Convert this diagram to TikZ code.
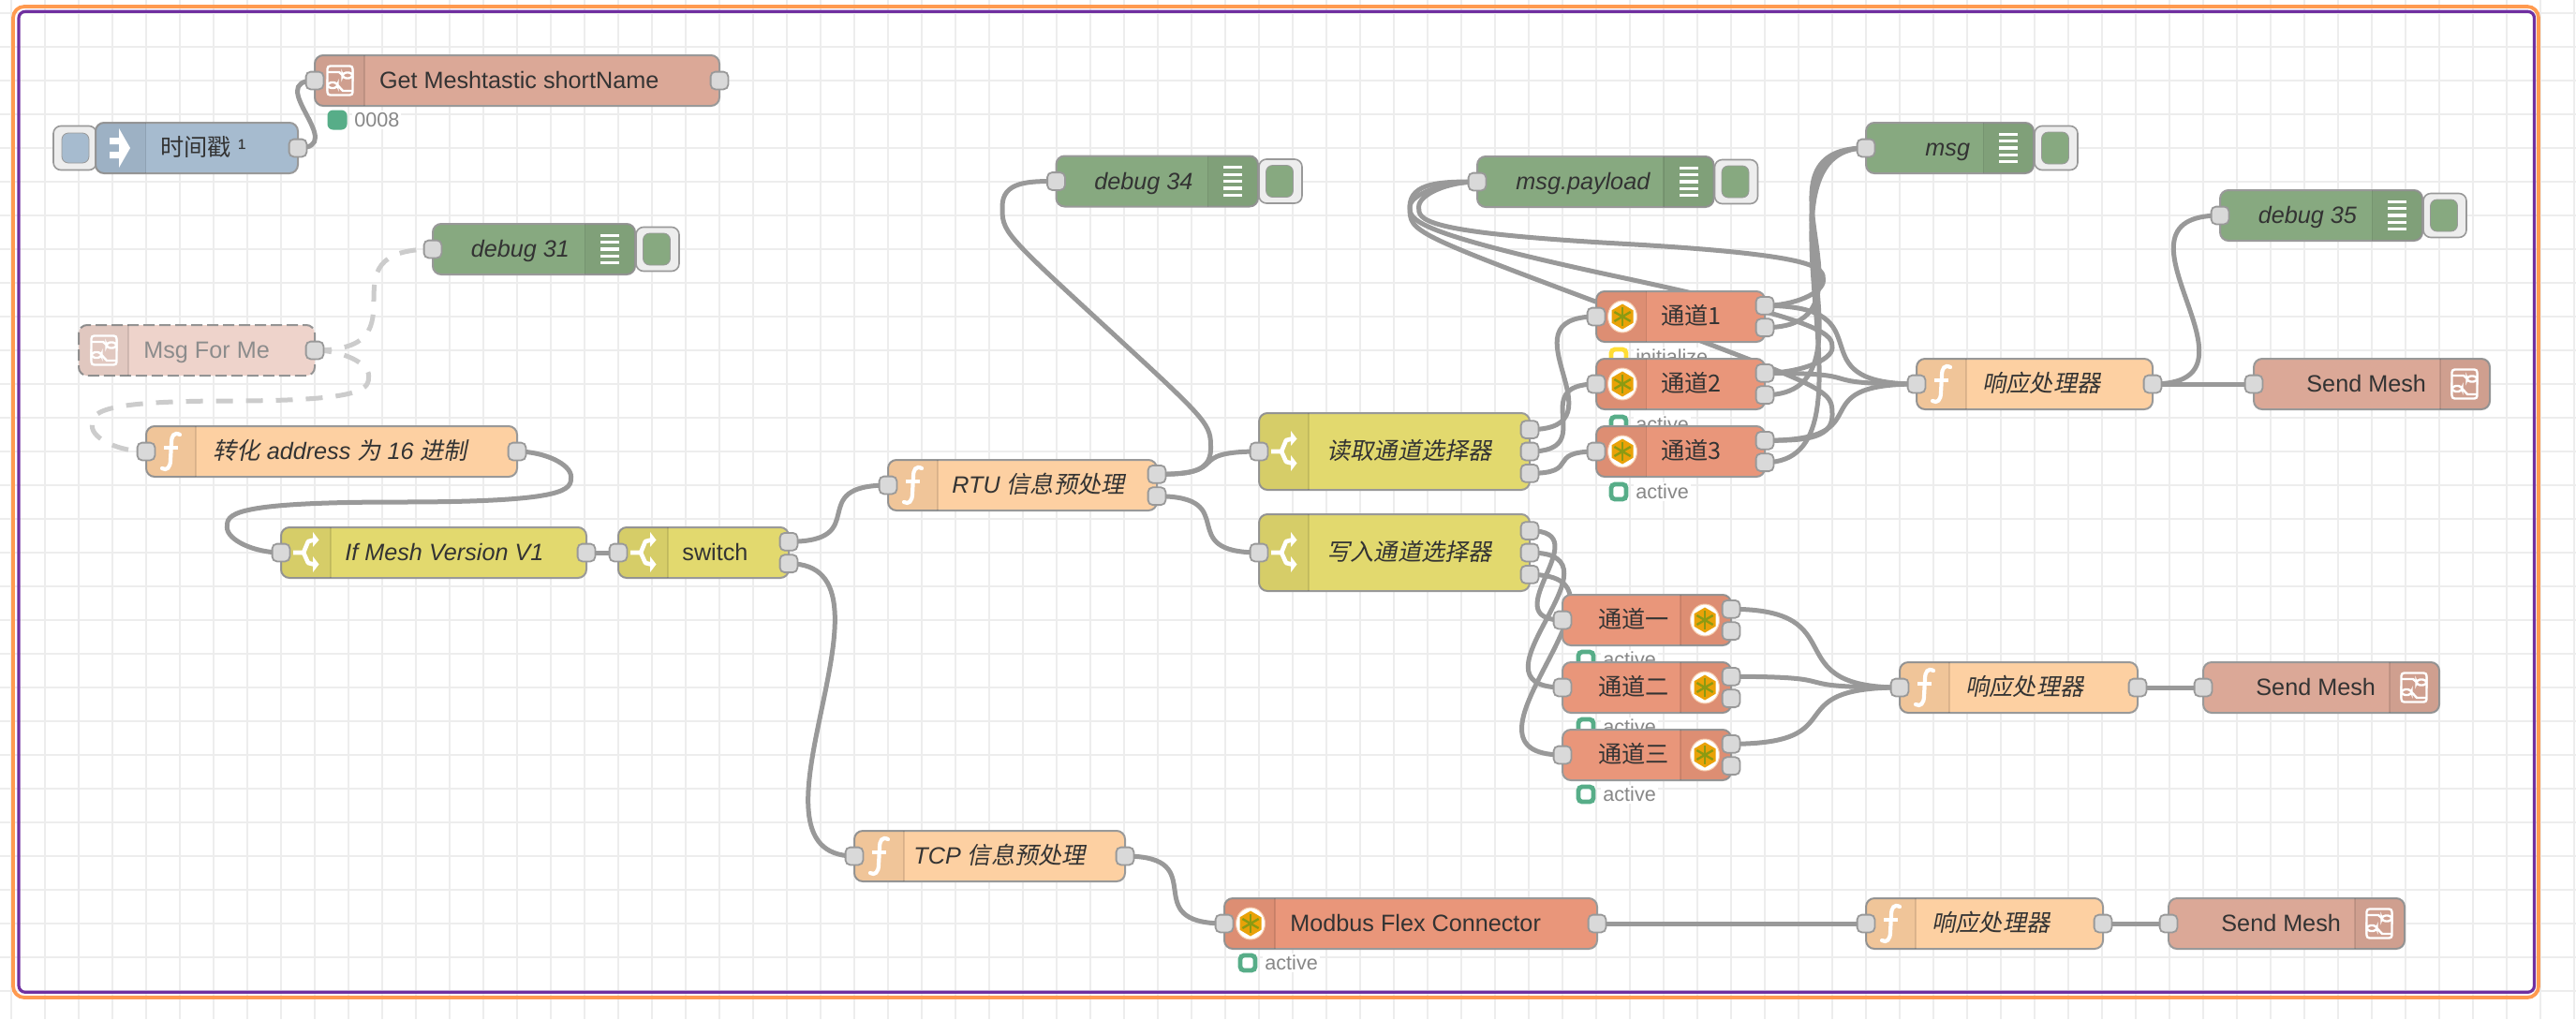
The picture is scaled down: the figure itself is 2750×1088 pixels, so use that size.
\documentclass[tikz,border=0pt]{standalone}
\usepackage{fontspec}
\setmainfont{Liberation Sans}
\newfontfamily\cjk{Noto Sans CJK SC}
\newfontfamily\cjkit[FakeSlant=0.2]{Noto Sans CJK SC}
\definecolor{wirec}{HTML}{999999}
\definecolor{cinj}{HTML}{A6BBCF}
\definecolor{cdbg}{HTML}{87A980}
\definecolor{cfn}{HTML}{FDD0A2}
\definecolor{csw}{HTML}{E2D96E}
\definecolor{cmb}{HTML}{E9967A}
\definecolor{csub}{HTML}{DBA897}
\definecolor{cfade}{HTML}{EED3CB}
\definecolor{cgreen}{HTML}{57AD88}
\definecolor{cyel}{HTML}{FFDD33}
\definecolor{mborange}{HTML}{E9A208}
\definecolor{mbgreen}{HTML}{8C9A12}
\definecolor{mbhalo}{HTML}{F6C9A8}
\pgfdeclarelayer{gridl}\pgfdeclarelayer{wirel}\pgfsetlayers{gridl,wirel,main}
\tikzset{
 nbox/.style={rectangle,draw=wirec,line width=1pt,rounded corners=4.5pt,inner sep=0pt},
 portbox/.style={rectangle,draw=wirec,fill=black!15,line width=.9pt,rounded corners=2.5pt,minimum width=9.4pt,minimum height=9.4pt,inner sep=0pt},
 wire/.style={draw=wirec,line width=2.5pt},
 fadewire/.style={draw=black!20,line width=2.5pt,dash pattern=on 9pt off 7pt},
 lbl/.style={anchor=base west,inner sep=0pt,text=black!80,font=\fontsize{12.6}{15}\selectfont},
 statl/.style={anchor=west,inner sep=1pt,fill=white,text=black!47,font=\fontsize{10.8}{13}\selectfont},
 whiteline/.style={draw=white,line width=1.2pt},
}
% body: name,x0,ytop,x1,h,color
\newcommand\nbody[6]{\node[nbox,fill=#6,minimum width={((#4)-(#2))*.5pt},minimum height={(#5)*.5pt}] (#1) at ({((#2)+(#4))/2},{(#3)+(#5)/2}) {};}
\newcommand\shadeL[4]{\fill[black,opacity=.05] ({#3},{#2}) [rounded corners=4pt] -- ({#1},{#2}) -- ({#1},{(#2)+(#4)}) [sharp corners] -- ({#3},{(#2)+(#4)}) -- cycle;
 \draw[black,opacity=.1,line width=.6pt] ({#3},{#2})--({#3},{(#2)+(#4)});}
\newcommand\shadeR[4]{\shadeL{#1}{#2}{#3}{#4}}
\newcommand\pnode[3]{\node[portbox] (#1) at ({#2},{#3}) {};}
\newcommand\lab[4]{\node[lbl] (#1) at ({#2},{(#3)+8.5}) {#4};}
% icons
\newcommand\iconF[2]{\begin{scope}[shift={({#1},{#2})}]
 \draw[draw=white,line width=2.1pt,line cap=round] (10,-18) .. controls (4,-21) and (1,-17) .. (1,-9) -- (0,9) .. controls (0,17) and (-4,21) .. (-9,18);
 \draw[draw=white,line width=1.6pt] (-7,-4)--(8,-4);
 \end{scope}}
\newcommand\iconSw[2]{\begin{scope}[shift={({#1},{#2})}]
 \draw[draw=white,line width=2.3pt,line join=round] (-13,0)--(-2,0)--(3,-12)--(9,-13.5);
 \draw[draw=white,line width=2.3pt,line join=round] (-2,0)--(3,11)--(9,12.5);
 \fill[white] (8,-22)--(14.5,-13.5)--(8,-6)--cycle (8,4)--(14.5,12.5)--(8,21)--cycle;
 \end{scope}}
\newcommand\iconDbg[2]{\begin{scope}[shift={({#1},{#2})}]
 \foreach \q in {-14.8,-7.4,0,7.4,14.8}{\fill[white] (-10,{\q-1.6}) rectangle (10,{\q+1.6});}
 \end{scope}}
\newcommand\iconSub[2]{\begin{scope}[shift={({#1},{#2})}]
 \draw[whiteline,rounded corners=1.5pt] (-13.5,-15.5) rectangle (13.5,15.5);
 \draw[whiteline,rounded corners=2pt] (2.5,-8.5) rectangle (13.5,-2.5);
 \draw[whiteline,rounded corners=2pt] (-13.5,2) rectangle (-2.5,8);
 \draw[whiteline] (-13.5,-9)--(-1,-9)--(2.5,-6);
 \draw[whiteline] (-2.5,5)--(3,11)--(13.5,11);
 \end{scope}}
\newcommand\iconMb[2]{\begin{scope}[shift={({#1},{#2})}]
 \fill[white,draw=mbhalo,line width=.5pt] (0,0) ellipse [x radius=15.5,y radius=17];
 \fill[mborange] (0,-13.5)--(11.5,-6.7)--(11.5,6.7)--(0,13.5)--(-11.5,6.7)--(-11.5,-6.7)--cycle;
 \foreach \a in {0,60,120}{\draw[draw=mbgreen,line width=1.2pt] (\a+90:-10)--(\a+90:10);}
 \end{scope}}
\newcommand\iconInj[2]{\begin{scope}[shift={({#1},{#2})}]
 \fill[white] (-10,-11) rectangle (1,-4) (-10,4) rectangle (1,11);
 \fill[white] (0,-21)--(12,0)--(0,21)--cycle;
 \end{scope}}
% function: name,x0,ytop,x1,lx,text
\newcommand\fnode[6]{\nbody{#1}{#2}{#3}{#4}{54}{cfn}\shadeL{#2}{#3}{#2+53}{54}
 \iconF{#2+26}{#3+27}\lab{#1-t}{#5}{#3+27}{\itshape #6}
 \pnode{#1-i}{#2}{#3+27}}
% debug: name,x0,ytop,x1,lx,text
\newcommand\dnode[6]{\node[nbox,fill=black!7,draw=wirec,line width=.8pt,rounded corners=4pt,minimum width=23pt,minimum height=23.5pt] (#1-b) at ({(#4)+24},{(#3)+27}) {};
 \nbody{#1}{#2}{#3}{#4}{54}{cdbg}\shadeR{#4}{#3}{#4-53.5}{54}
 \node[rectangle,fill=cdbg,draw=black!40,line width=.4pt,rounded corners=3.5pt,minimum width=14.5pt,minimum height=17pt,inner sep=0pt] (#1-c) at ({(#4)+23},{(#3)+27}) {};
 \iconDbg{#4-27}{#3+27}\lab{#1-t}{#5}{#3+27}{\itshape #6}
 \pnode{#1-i}{#2}{#3+27}}
% send mesh: name,x0,ytop
\newcommand\snode[3]{\nbody{#1}{#2}{#3}{#2+252}{54}{csub}\shadeR{#2+252}{#3}{#2+199}{54}
 \iconSub{#2+225}{#3+27}\lab{#1-t}{#2+56}{#3+27}{Send Mesh}
 \pnode{#1-i}{#2}{#3+27}}
% switch: name,x0,ytop,x1,h,lx,text
\newcommand\swnode[7]{\nbody{#1}{#2}{#3}{#4}{#5}{csw}\shadeL{#2}{#3}{#2+53}{#5}
 \iconSw{#2+26}{#3+#5/2}\lab{#1-t}{#6}{#3+#5/2}{#7}
 \pnode{#1-i}{#2}{#3+#5/2}}
% status: name,cx,cy,colour,filled(ring=white),text
\newcommand\stat[6]{\node[statl] (#1-t) at ({(#2)+16},{#3}) {#6};
 \node[rectangle,draw=#4,fill=#5,line width=2.4pt,rounded corners=2pt,minimum width=8pt,minimum height=8pt,inner sep=0pt] (#1-d) at ({#2},{#3}) {};}
% read channel (icon left): name,ytop,text,status colour,status text
\newcommand\chL[5]{\nbody{#1}{1704}{#2}{1884}{54}{cmb}\shadeL{1704}{#2}{1757.5}{54}
 \iconMb{1732}{#2+27}\lab{#1-t}{1773}{#2+27}{\cjk #3}
 \pnode{#1-i}{1704}{#2+27}\pnode{#1-a}{1884}{#2+15.3}\pnode{#1-b}{1884}{#2+38.7}
 \stat{#1-s}{1728}{#2+70}{#4}{white}{#5}}
% write channel (icon right): name,ytop,text
\newcommand\chR[3]{\nbody{#1}{1668}{#2}{1848}{54}{cmb}\shadeR{1848}{#2}{1794}{54}
 \iconMb{1820}{#2+27}\lab{#1-t}{1705.6}{#2+27}{\cjk #3}
 \pnode{#1-i}{1668}{#2+27}\pnode{#1-a}{1848}{#2+15.3}\pnode{#1-b}{1848}{#2+38.7}
 \stat{#1-s}{1693}{#2+69}{cgreen}{white}{active}}
% Node-RED link routing
\newcommand\wire[3][]{%
 \pgfpointanchor{#2}{center}\pgfgetlastxy\wax\way
 \pgfpointanchor{#3}{center}\pgfgetlastxy\wbx\wby
 \pgfmathsetmacro\wox{\wax*2}\pgfmathsetmacro\woy{-1*\way*2}%
 \pgfmathsetmacro\wqx{\wbx*2}\pgfmathsetmacro\wqy{-1*\wby*2}%
 \pgfmathsetmacro\wdx{\wqx-\wox}\pgfmathsetmacro\wdy{\wqy-\woy}%
 \ifdim\wdx pt>0pt
  \pgfmathsetmacro\wdl{veclen(\wdx,\wdy)}%
  \pgfmathsetmacro\wcs{0.75*min(\wdl,180)}%
  \draw[wire,#1] (#2.center) .. controls ({\wox+\wcs},\woy) and ({\wqx-\wcs},\wqy) .. (#3.center);
 \else
  \pgfmathsetmacro\wsc{0.4-0.2*max(0,(180-min(abs(\wdx),abs(\wdy)))/180)}%
  \pgfmathsetmacro\wtx{\wox+180*\wsc}\pgfmathsetmacro\wbotx{\wqx-180*\wsc}%
  \pgfmathsetmacro\wmx{\wqx-\wdx/2}\pgfmathsetmacro\wmy{\wqy-\wdy/2}%
  \pgfmathsetmacro\wyo{(\wqy+\wmy)/2}%
  \ifdim\wdy pt>0pt
   \def\wscy{1}%
   \pgfmathsetmacro\wty{min(\wyo-\wdy/2,\woy+27)}\pgfmathsetmacro\wboty{max(\wyo,\wqy-27)}%
   \pgfmathsetmacro\wca{max(\woy,\wty-27)}\pgfmathsetmacro\wcb{min(\wmy,\wty+27)}\pgfmathsetmacro\wcc{max(\wmy,\wboty-27)}%
  \else
   \def\wscy{-1}%
   \pgfmathsetmacro\wty{max(\wyo-\wdy/2,\woy-27)}\pgfmathsetmacro\wboty{min(\wyo,\wqy+27)}%
   \pgfmathsetmacro\wca{min(\woy,\wty+27)}\pgfmathsetmacro\wcb{max(\wmy,\wty-27)}\pgfmathsetmacro\wcc{min(\wmy,\wboty+27)}%
  \fi
  \pgfmathsetmacro\wtst{abs(\wcb-(\wty+\wscy*27))}%
  \pgfmathsetmacro\wady{abs(\wdy)}%
  \ifdim\wtst pt<.01pt\ifdim\wady pt<270pt
   \pgfmathsetmacro\wca{\wty-\wscy*13.5}\pgfmathsetmacro\wcc{\wboty-\wscy*13.5}%
  \fi\fi
  \draw[wire,#1] (#2.center) .. controls ({(\wox+\wtx)/2},\woy) and (\wtx,\wca) .. (\wtx,\wty)
   .. controls (\wtx,{2*\wty-\wca}) and (\wtx,\wcb) .. (\wmx,\wmy)
   .. controls ({2*\wmx-\wtx},{2*\wmy-\wcb}) and (\wbotx,\wcc) .. (\wbotx,\wboty)
   .. controls (\wbotx,{2*\wboty-\wcc}) and ({(\wqx+\wbotx)/2},\wqy) .. (#3.center);
 \fi}
\begin{document}
\begin{tikzpicture}[x=.5pt,y=-.5pt]
\useasboundingbox (0,0) rectangle (2750,1088);
\begin{pgfonlayer}{gridl}
 \fill[white] (0,0) rectangle (2750,1088);
 \foreach \k in {0,...,76}{\draw[black!7,line width=1pt] ({12+36*\k},0)--({12+36*\k},1088);}
 \foreach \k in {0,...,29}{\draw[black!7,line width=1pt] (0,{14+36*\k})--(2750,{14+36*\k});}
 \draw[draw={rgb,255:red,255;green,154;blue,80},line width=1.9pt,rounded corners=6pt] (14,7) rectangle (2710,1065);
 \draw[draw={rgb,255:red,112;green,48;blue,160},line width=1.6pt,rounded corners=3.5pt] (20,12.3) rectangle (2705.5,1059.3);
\end{pgfonlayer}

% inject
\node[nbox,fill=black!7,line width=.8pt,rounded corners=4pt,minimum width=23pt,minimum height=23.5pt] (ts-b) at (80,158) {};
\node[rectangle,fill=cinj,draw=black!40,line width=.4pt,rounded corners=3.5pt,minimum width=14.5pt,minimum height=16pt,inner sep=0pt] (ts-c) at (80.5,158) {};
\nbody{ts}{102}{131}{318}{54}{cinj}\shadeL{102}{131}{155.5}{54}
\iconInj{127}{158}
\lab{ts-t}{171}{158}{{\cjk 时间戳} ¹}
\pnode{ts-o}{318}{158}
% get meshtastic
\nbody{gm}{336}{59}{768}{54}{csub}\shadeL{336}{59}{389}{54}
\iconSub{363}{86}
\lab{gm-t}{404.6}{86}{Get Meshtastic shortName}
\pnode{gm-i}{336}{86}\pnode{gm-o}{768}{86}
\node[statl] (gm-st) at (376,128) {0008};
\node[rectangle,fill=cgreen,rounded corners=3pt,minimum width=10.5pt,minimum height=10.5pt,inner sep=0pt] (gm-sd) at (360,128) {};
% debug 31
\dnode{d31}{462}{239}{678}{502.5}{debug 31}
% msg for me
\node[rectangle,fill=cfade,rounded corners=4.5pt,inner sep=0pt,minimum width=126pt,minimum height=27pt] (mfm) at (210,374) {};
\draw[draw=black!42,line width=1pt,dash pattern=on 6pt off 2.5pt,rounded corners=4.5pt] (84,347) rectangle (336,401);
\shadeL{84}{347}{137}{54}
\iconSub{111}{374}
\node[lbl,text=black!45] (mfm-t) at (153,382.5) {Msg For Me};
\pnode{mfm-o}{336}{374}
% convert
\fnode{cv}{156}{455}{552}{227}{{\cjkit 转化} address {\cjkit 为} 16 {\cjkit 进制}}
\pnode{cv-o}{552}{482}
% if mesh
\swnode{ifm}{300}{563}{626}{54}{368}{\itshape If Mesh Version V1}
\pnode{ifm-o}{626}{590}
% switch
\swnode{sw}{660}{563}{842}{54}{728}{switch}
\pnode{sw-a}{842}{578.3}\pnode{sw-b}{842}{601.7}
% RTU
\fnode{rtu}{948}{491}{1235}{1016}{RTU {\cjkit 信息预处理}}
\pnode{rtu-a}{1235}{506.3}\pnode{rtu-b}{1235}{529.7}
% TCP
\fnode{tcp}{912}{887}{1201}{975}{TCP {\cjkit 信息预处理}}
\pnode{tcp-o}{1201}{914}
% debug 34
\dnode{d34}{1127.5}{166.5}{1343}{1168}{debug 34}
% read
\swnode{rd}{1344}{441}{1633}{82}{1416}{\cjkit 读取通道选择器}
\pnode{rd-a}{1633}{458.6}\pnode{rd-b}{1633}{482}\pnode{rd-c}{1633}{505.4}
% write
\swnode{wr}{1344}{549}{1633}{82}{1416}{\cjkit 写入通道选择器}
\pnode{wr-a}{1633}{566.6}\pnode{wr-b}{1633}{590}\pnode{wr-c}{1633}{613.4}
% msg.payload, msg, debug 35
\dnode{mp}{1577}{167}{1829.5}{1618}{msg.payload}
\dnode{mg}{1992}{131}{2171}{2055}{msg}
\dnode{d35}{2370}{203}{2586}{2410.5}{debug 35}
% read channels
\chL{c1}{311}{通道1}{cyel}{initialize}
\chL{c2}{383}{通道2}{cgreen}{active}
\chL{c3}{455}{通道3}{cgreen}{active}
% response 1
\fnode{r1}{2046}{383}{2298}{2116}{\cjkit 响应处理器}
\pnode{r1-o}{2298}{410}
\snode{s1}{2406}{383}
% write channels
\chR{w1}{635}{通道一}
\chR{w2}{707}{通道二}
\chR{w3}{779}{通道三}
\fnode{r2}{2028}{707}{2282}{2098}{\cjkit 响应处理器}
\pnode{r2-o}{2282}{734}
\snode{s2}{2352}{707}
% modbus flex
\nbody{mf}{1307}{959}{1705}{54}{cmb}\shadeL{1307}{959}{1361}{54}
\iconMb{1335}{986}
\lab{mf-t}{1377}{986}{Modbus Flex Connector}
\pnode{mf-i}{1307}{986}\pnode{mf-o}{1705}{986}
\stat{mf-s}{1332}{1028}{cgreen}{white}{active}
\fnode{r3}{1992}{959}{2245}{2062}{\cjkit 响应处理器}
\pnode{r3-o}{2245}{986}
\snode{s3}{2315}{959}

\begin{pgfonlayer}{wirel}
\wire{ts-o}{gm-i}
\wire[fadewire]{mfm-o}{d31-i}
\wire[fadewire]{mfm-o}{cv-i}
\wire{cv-o}{ifm-i}
\wire{ifm-o}{sw-i}
\wire{sw-a}{rtu-i}
\wire{sw-b}{tcp-i}
\wire{rtu-a}{d34-i}
\wire{rtu-a}{rd-i}
\wire{rtu-b}{wr-i}
\wire{rd-a}{c1-i}
\wire{rd-b}{c2-i}
\wire{rd-c}{c3-i}
\wire{wr-a}{w1-i}
\wire{wr-b}{w2-i}
\wire{wr-c}{w3-i}
\wire{c1-a}{mp-i}
\wire{c2-a}{mp-i}
\wire{c3-a}{mp-i}
\wire{c1-b}{mg-i}
\wire{c2-b}{mg-i}
\wire{c3-b}{mg-i}
\wire{c1-a}{r1-i}
\wire{c2-a}{r1-i}
\wire{c3-a}{r1-i}
\wire{r1-o}{d35-i}
\wire{r1-o}{s1-i}
\wire{w1-a}{r2-i}
\wire{w2-a}{r2-i}
\wire{w3-a}{r2-i}
\wire{r2-o}{s2-i}
\wire{tcp-o}{mf-i}
\wire{mf-o}{r3-i}
\wire{r3-o}{s3-i}
\end{pgfonlayer}
\end{tikzpicture}
\end{document}
